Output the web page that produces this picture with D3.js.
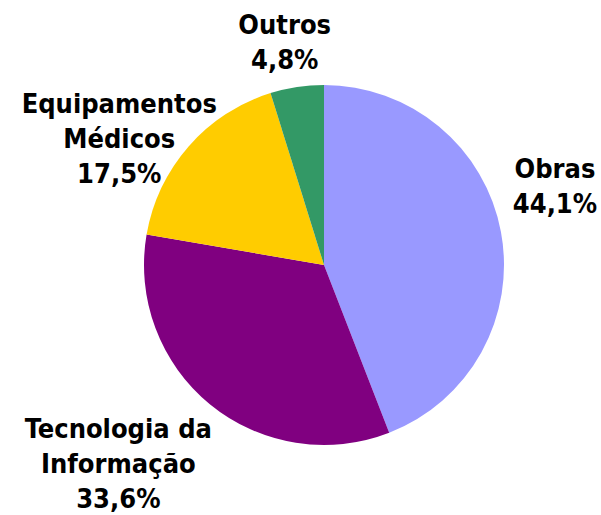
<!DOCTYPE html>
<html>
<head>
<meta charset="utf-8">
<script src="https://cdn.jsdelivr.net/npm/d3@7"></script>
<style>
  body { margin: 0; background: #fff; }
  .lbl { font-family: "DejaVu Sans Condensed", "DejaVu Sans", sans-serif; font-stretch: condensed; font-weight: bold; font-size: 27px; fill: #000; }
</style>
</head>
<body>
<script>
// data
var categories = ["Obras", "Tecnologia da Informação", "Equipamentos Médicos", "Outros"];
var labelLines = [["Obras"], ["Tecnologia da", "Informação"], ["Equipamentos", "Médicos"], ["Outros"]];
var shares = [44.1, 33.6, 17.5, 4.8];
var colors = ["#9999ff", "#800080", "#ffcc00", "#339966"];

// layout
var width = 601, height = 515,
    cx = 324, cy = 265, radius = 180,
    lineH = 35;
// label nudges from the outer centroid
var nudge = [[0, -36], [-57, 16], [-28, 28], [-4, 9]];

var fmt = d3.formatLocale({decimal: ",", thousands: ".", grouping: [3], currency: ["", ""]}).format(".1f");

var svg = d3.select("body").append("svg")
    .attr("width", width)
    .attr("height", height);

var g = svg.append("g")
    .attr("transform", "translate(" + cx + "," + cy + ")");

var pie = d3.pie().sort(null).value(function(d) { return d; });
var arcs = pie(shares);

var arc = d3.arc().innerRadius(0).outerRadius(radius);
var labelArc = d3.arc().innerRadius(235).outerRadius(235);

g.selectAll("path")
    .data(arcs)
  .enter().append("path")
    .attr("d", arc)
    .attr("fill", function(d, i) { return colors[i]; });

// labels
arcs.forEach(function(d, i) {
  var c = labelArc.centroid(d);
  var x = c[0] + nudge[i][0], y = c[1] + nudge[i][1];
  var lines = labelLines[i].concat([fmt(shares[i]) + "%"]);
  var y0 = y - (lines.length - 1) * lineH / 2 + 10;
  var t = g.append("text")
      .attr("class", "lbl")
      .attr("text-anchor", "middle");
  lines.forEach(function(s, j) {
    t.append("tspan")
        .attr("x", x)
        .attr("y", y0 + j * lineH)
        .text(s);
  });
});
</script>
</body>
</html>
